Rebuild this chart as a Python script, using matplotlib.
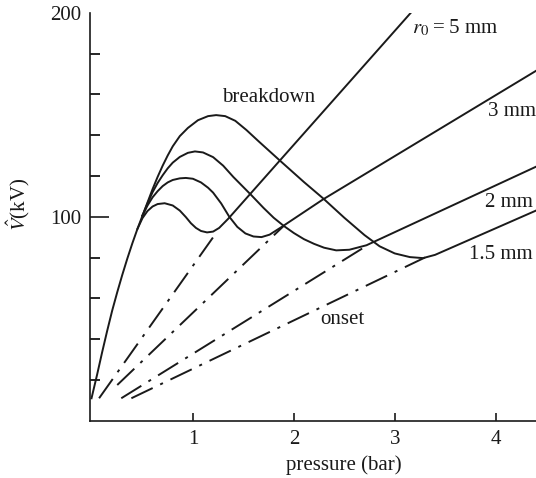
import matplotlib
matplotlib.use('Agg')
import matplotlib.pyplot as plt

plt.rcParams['font.family'] = ['Liberation Serif', 'DejaVu Serif']
plt.rcParams['mathtext.fontset'] = 'stix'
plt.rcParams['lines.scale_dashes'] = False

# shared rising part of the breakdown curves
rise_p = [-0.005, 0.05, 0.1, 0.15, 0.2, 0.25, 0.3, 0.35, 0.4, 0.45, 0.5]
rise_v = [11, 22.5, 33.5, 44, 54, 63, 71.5, 79.5, 87, 94, 100.5]

# breakdown branches (pressure in bar, voltage in kV)
bd5_p = [0.45, 0.5, 0.55, 0.6, 0.65, 0.72, 0.8, 0.87, 0.93, 0.98, 1.03, 1.08,
         1.14, 1.2, 1.26, 1.35, 3.16]
bd5_v = [94, 99.3, 102.8, 105, 106.2, 106.6, 105.5, 103, 99.8, 96.8, 94.5, 93,
         92.3, 92.7, 94.5, 99, 200]

bd3_p = [0.5, 0.55, 0.6, 0.65, 0.7, 0.75, 0.8, 0.87, 0.93, 1.0, 1.08, 1.15,
         1.2, 1.28, 1.36, 1.44, 1.52, 1.6, 1.68, 1.76, 1.88, 2.29, 4.4]
bd3_v = [100.5, 105.5, 109.5, 112.5, 115, 116.8, 118, 118.8, 119, 118.6, 116.8, 114.2,
         111.8, 106.5, 100, 95, 91.8, 90.3, 90, 91.2, 95, 108.5, 171.5]

bd2_p = [0.5, 0.55, 0.6, 0.65, 0.7, 0.75, 0.8, 0.87, 0.95, 1.02, 1.1, 1.2, 1.3,
         1.4, 1.5, 1.58, 1.7, 1.8, 1.9, 2.0, 2.1, 2.2, 2.3, 2.42, 2.55, 2.72, 4.4]
bd2_v = [100.5, 106.5, 112, 116.5, 120.3, 123.7, 126.5, 129.3, 131.3, 132, 131.5, 129.2, 125,
         119.5, 114.5, 110.5, 104.3, 99.5, 95.5, 92, 89, 86.7, 84.8, 83.5, 83.8, 86, 124.5]

bd15_p = [0.5, 0.55, 0.6, 0.65, 0.7, 0.75, 0.8, 0.87, 0.95, 1.05, 1.15, 1.23, 1.32,
          1.42, 1.53, 1.65, 1.86, 2.1, 2.29, 2.5, 2.7, 2.85, 3.0, 3.15, 3.28, 3.4, 4.4]
bd15_v = [100.5, 107, 113.5, 119.5, 125, 130, 134.5, 139.5, 143.5, 147.3, 149.3, 149.8, 149.3,
          147, 142.5, 137, 127.6, 117, 109, 99.5, 91, 85.5, 82, 80.2, 79.7, 81.3, 103]

# onset lines
on5_p, on5_v = [0.07, 1.23], [11, 92]
on3_p, on3_v = [0.25, 1.9], [17.5, 95.5]
on2_p, on2_v = [0.29, 2.72], [11, 85.7]
on15_p, on15_v = [0.39, 3.3], [11, 80]

ink = '#1a1a1a'
fig = plt.figure(figsize=(5.36, 4.78), dpi=100)
ax = fig.add_axes([90/536, 1-420.7/478, 446/536, 408/478])

for p, v in [(rise_p, rise_v), (bd5_p, bd5_v), (bd3_p, bd3_v), (bd2_p, bd2_v), (bd15_p, bd15_v)]:
    ax.plot(p, v, color=ink, lw=1.4, solid_joinstyle='round')

dashdot = (0, (17, 6, 2.2, 6))
for p, v in [(on5_p, on5_v), (on3_p, on3_v), (on2_p, on2_v), (on15_p, on15_v)]:
    ax.plot(p, v, color=ink, lw=1.4, linestyle=dashdot)

ax.set_xlim(-0.02, 4.40)
ax.set_ylim(0, 200)
ax.spines['top'].set_visible(False)
ax.spines['right'].set_visible(False)
for s in ['left', 'bottom']:
    ax.spines[s].set_linewidth(1.2)
    ax.spines[s].set_color(ink)

ax.set_xticks([1, 2, 3, 4])
ax.set_yticks([100, 200])
ax.set_yticks([20, 40, 60, 80, 120, 140, 160, 180], minor=True)
ax.tick_params(axis='x', direction='in', length=6, width=1.2, pad=7, labelsize=15, colors=ink)
ax.tick_params(axis='y', which='major', direction='in', length=14, width=1.2, pad=6, labelsize=15, colors=ink)
ax.tick_params(axis='y', which='minor', direction='in', length=7, width=1.2)
ax.yaxis.get_major_ticks()[1].tick1line.set_visible(False)

ax.set_xlabel('pressure (bar)', fontsize=15, color=ink)
ax.xaxis.set_label_coords(0.57, -0.085)
ax.set_ylabel(r'$\hat{V}$(kV)', fontsize=15, color=ink)
ax.yaxis.set_label_coords(-0.13, 0.53)

ax.text(3.17, 190, r'$r_0$' + '\u2009=\u20095 mm', fontsize=15, ha='left', va='baseline', color=ink)
ax.text(4.40, 149.2, '3 mm', fontsize=15, ha='right', va='baseline', color=ink)
ax.text(4.37, 104.6, '2 mm', fontsize=15, ha='right', va='baseline', color=ink)
ax.text(4.37, 79.2, '1.5 mm', fontsize=15, ha='right', va='baseline', color=ink)
ax.text(1.75, 156, 'breakdown', fontsize=15, ha='center', va='baseline', color=ink)
ax.text(2.48, 47.5, 'onset', fontsize=15, ha='center', va='baseline', color=ink)

fig.savefig('out.png', dpi=100)
